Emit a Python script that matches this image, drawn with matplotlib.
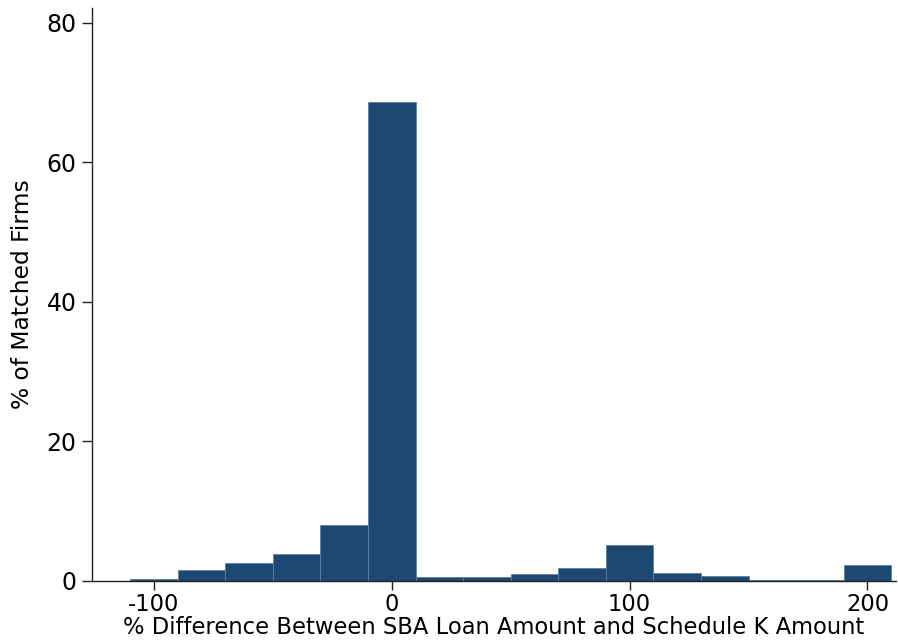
import numpy as np
import matplotlib
matplotlib.use("Agg")
import matplotlib.pyplot as plt

plt.rcParams["axes.unicode_minus"] = False

# Histogram bins (percent difference) and share of matched firms in each bin
bin_edges = [-110, -90, -70, -50, -30, -10, 10, 30, 50, 70, 90, 110, 130, 150, 170, 190, 210]
pct_firms = [0.35, 1.55, 2.6, 3.8, 8.0, 68.6, 0.57, 0.55, 1.0, 1.9, 5.1, 1.1, 0.75, 0.2, 0.2, 2.3]

x_ticks = [-100, 0, 100, 200]
y_ticks = [0, 20, 40, 60, 80]

bar_color = "#1d4872"
edge_color = "#5f7f9f"

fig = plt.figure(figsize=(8.98, 6.43), dpi=100)
ax = fig.add_axes([92 / 898, 1 - 581 / 643, (896 - 92) / 898, (581 - 8) / 643])

lefts = np.array(bin_edges[:-1])
widths = np.diff(bin_edges)
ax.bar(lefts, pct_firms, width=widths, align="edge", color=bar_color,
       edgecolor=edge_color, linewidth=0.6, zorder=2)

ax.set_xlim(-126, 212)
ax.set_ylim(0, 82.1)
ax.set_xticks(x_ticks)
ax.set_yticks(y_ticks)

for side in ("top", "right"):
    ax.spines[side].set_visible(False)
for side in ("left", "bottom"):
    ax.spines[side].set_linewidth(1.0)
    ax.spines[side].set_color("#222222")

ax.tick_params(axis="y", direction="out", length=7.5, width=1.0,
               labelsize=17, color="#222222", pad=3.5)
ax.tick_params(axis="x", direction="out", length=6.5, width=1.0,
               labelsize=16.3, color="#222222", pad=2)

ax.set_xlabel("% Difference Between SBA Loan Amount and Schedule K Amount",
              fontsize=16.3, labelpad=0)
ax.set_ylabel("% of Matched Firms", fontsize=16.8, labelpad=9)

fig.savefig("out.png", dpi=100)
